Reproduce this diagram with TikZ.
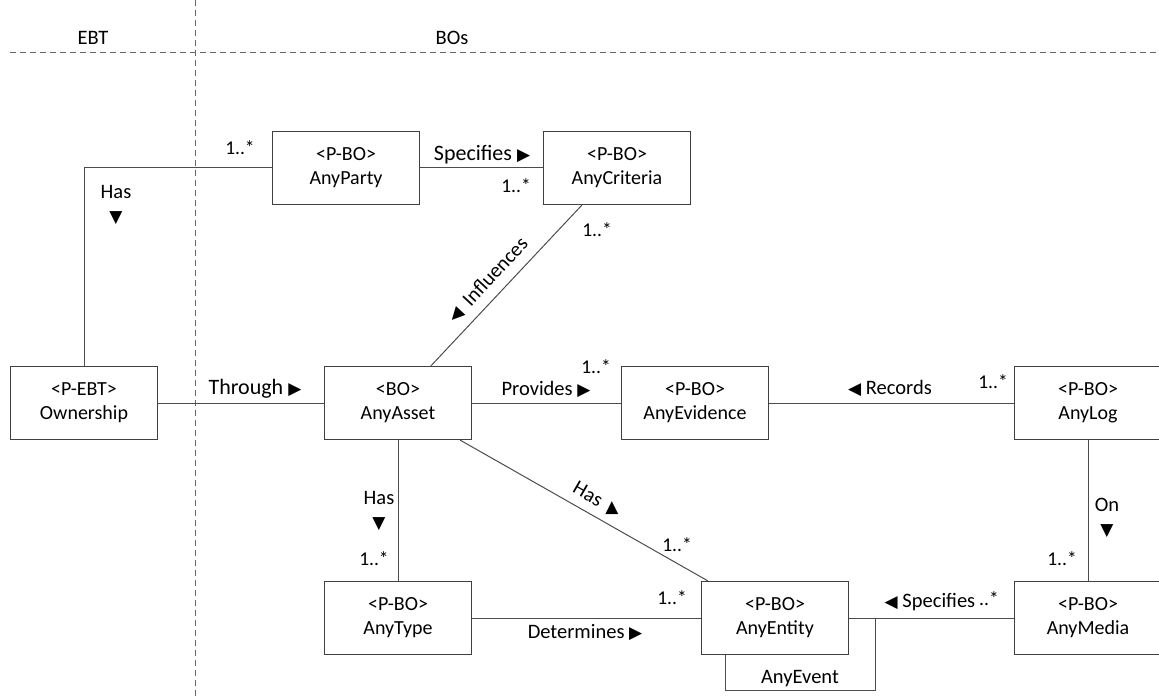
\documentclass[tikz,border=0pt]{standalone}
\usepackage{fontspec}
\setmainfont{Carlito}
\newfontfamily\symfont{DejaVu Sans}
\newcommand{\tri}[1]{{\symfont\fontsize{17}{17}\selectfont #1}}
\tikzset{
  bo/.style={draw=black!75,line width=1.2pt,fill=white,minimum width=147pt,minimum height=73pt,align=center,font=\fontsize{20}{24}\selectfont},
  lnk/.style={draw=black!70,line width=1pt},
  lbl/.style={font=\fontsize{20.5}{24}\selectfont,align=center,inner sep=0pt},
  big/.style={font=\fontsize{22}{24}\selectfont,inner sep=0pt},
  mult/.style={font=\fontsize{19.5}{22}\selectfont,inner sep=0pt}
}
\begin{document}
\begin{tikzpicture}[x=1pt,y=-1pt]
\useasboundingbox (0,0) rectangle (1159,700);
% zones
\draw [black!60,line width=1pt,dash pattern=on 6pt off 4pt] (10,53) -- (1159,53);
\draw [black!60,line width=1pt,dash pattern=on 6pt off 4pt] (195,0) -- (195,700);
\node[lbl] (ebt) at (93,38) {EBT};
\node[lbl] (bos) at (452,38) {BOs};

% boxes
\node[bo] (party) at (346,168) {<P-BO>\\AnyParty};
\node[bo] (crit) at (617,168) {<P-BO>\\AnyCriteria};
\node[bo] (own) at (84,403) {<P-EBT>\\Ownership};
\node[bo] (asset) at (398,403) {<BO>\\AnyAsset};
\node[bo] (evid) at (695,403) {<P-BO>\\AnyEvidence};
\node[bo] (log) at (1088,403) {<P-BO>\\AnyLog};
\node[bo] (type) at (398,618) {<P-BO>\\AnyType};
\node[bo] (entity) at (775,618) {<P-BO>\\AnyEntity};
\node[bo] (media) at (1088,618) {<P-BO>\\AnyMedia};

% links
\draw [lnk] (own.north) |- (party.west);
\draw [lnk] (party.east) -- (crit.west);
\draw [lnk] ([xshift=39pt]crit.south west) -- ([xshift=107pt]asset.north west);
\draw [lnk] (own.east) -- (asset.west);
\draw [lnk] (asset.east) -- (evid.west);
\draw [lnk] (evid.east) -- (log.west);
\draw [lnk] (log.south) -- (media.north);
\draw [lnk] (asset.south) -- (type.north);
\draw [lnk] ([xshift=-12pt]asset.south east) -- ([xshift=7pt]entity.north west);
\draw [lnk] (type.east) -- (entity.west);
\draw [lnk] (media.west) -- (entity.east);
\coordinate (evt) at (875,690);
\draw [lnk] ([xshift=25pt]entity.south west) |- (evt) -- (evt |- entity.east);
\node[lbl] (event) at (800,679) {AnyEvent};

% labels
\node[mult] (m1) at (240,148) {1..*};
\node[lbl] (has1) at (116,205) {Has\\\tri{▼}};
\node[big] (spec1) at (482,155) {Specifies \tri{▶}};
\node[mult] (m2) at (516,186) {1..*};
\node[mult] (m3) at (597,230) {1..*};
\node[lbl,rotate=47] (infl) at (488,280) {\tri{◀}\ \ Influences};
\node[big] (thr) at (255,389) {Through \tri{▶}};
\node[lbl] (prov) at (546,389) {Provides \tri{▶}};
\node[mult] (m4) at (596,367) {1..*};
\node[lbl] (rec) at (890,388) {\tri{◀} Records};
\node[mult] (m5) at (993,382) {1..*};
\node[lbl] (on) at (1107,518) {On\\\tri{▼}};
\node[mult] (m6) at (1062,559) {1..*};
\node[lbl] (has2) at (379,511) {Has\\\tri{▼}};
\node[mult] (m7) at (374,559) {1..*};
\node[lbl,rotate=-30] (has3) at (588,494) {Has};
\node[lbl] (has3t) at (612,508) {\tri{▲}};
\node[mult] (m8) at (677,545) {1..*};
\node[mult] (m9) at (672,598) {1..*};
\node[lbl] (det) at (585,632) {Determines \tri{▶}};
\node[lbl] (spec2) at (930,602) {\tri{◀} Specifies};
\node[mult] (m10) at (989,599) {..*};
\end{tikzpicture}
\end{document}
